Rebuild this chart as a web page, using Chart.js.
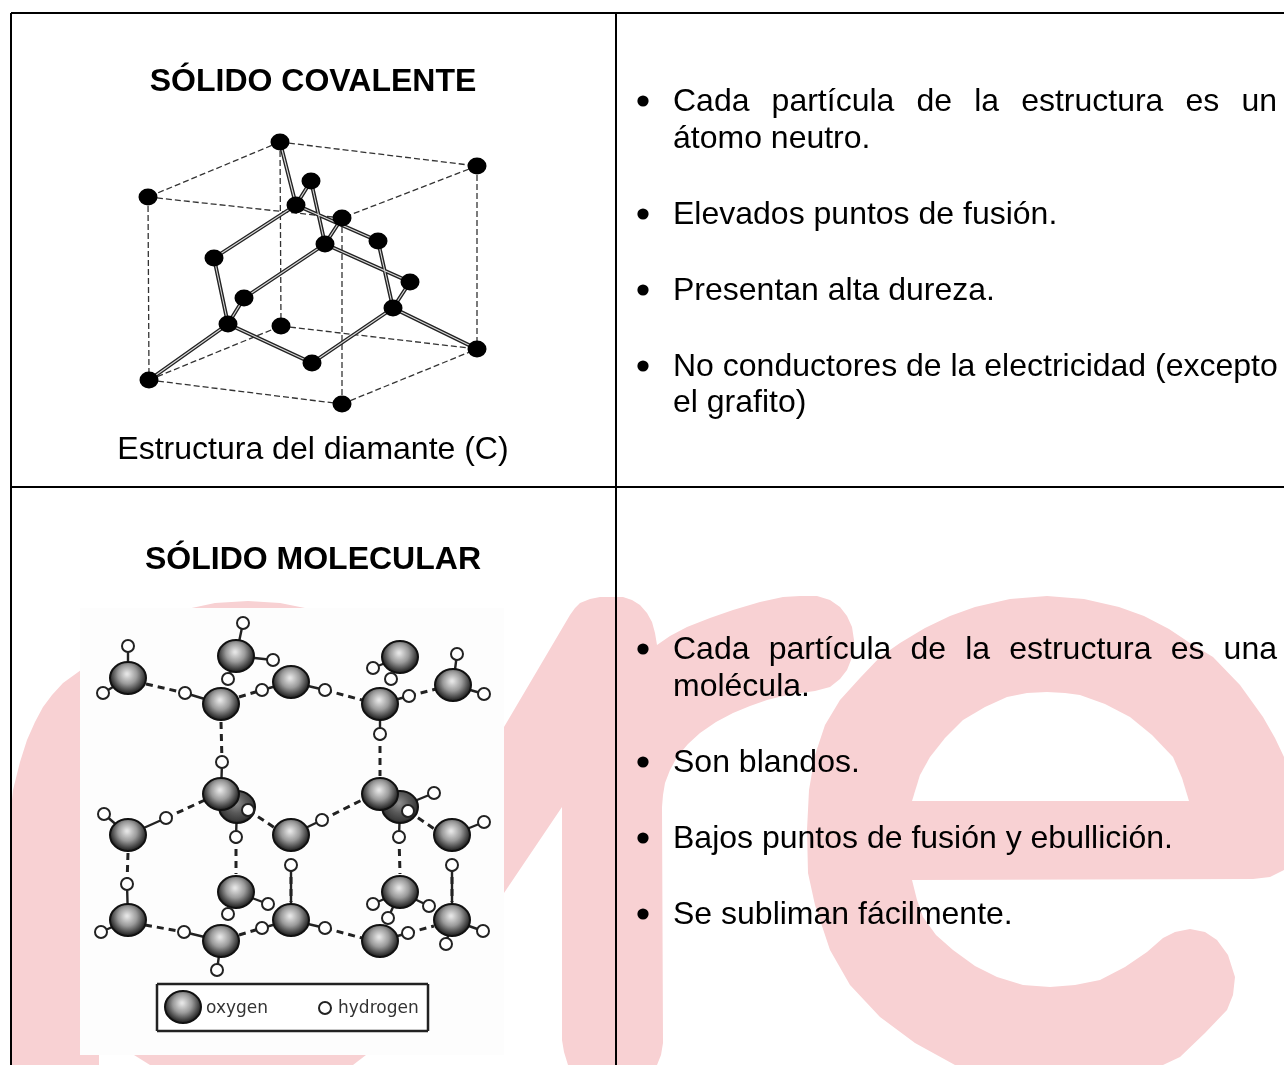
<!DOCTYPE html>
<html lang="es">
<head>
<meta charset="utf-8">
<title>Sólidos</title>
<script src="https://cdn.jsdelivr.net/npm/chart.js@4/dist/chart.umd.min.js"></script>
<style>
    html, body { margin: 0; padding: 0; background: #fff; }
    body { position: relative; width: 1284px; height: 1065px; overflow: hidden; font-family: "Liberation Sans", Arial, sans-serif; color: #000; }
    canvas { position: absolute; left: 0; top: 0; }
    .t { position: absolute; font-size: 32px; line-height: 36px; white-space: nowrap; }
    .c { left: 13px; width: 600px; text-align: center; }
    .b { font-weight: bold; }
    .j { left: 673px; width: 604px; white-space: normal; text-align: justify; text-align-last: justify; }
    .l { left: 673px; }
    .k { font-family: "DejaVu Sans", sans-serif; font-size: 17px; line-height: 20px; color: #333; }
</style>
</head>
<body>
<canvas id="lamina" width="1284" height="1065"></canvas>
<div class="t c b" style="top:62px">SÓLIDO COVALENTE</div>
<div class="t j" style="top:82px">Cada partícula de la estructura es un</div>
<div class="t l" style="top:119px">átomo neutro.</div>
<div class="t l" style="top:195px">Elevados puntos de fusión.</div>
<div class="t l" style="top:271px">Presentan alta dureza.</div>
<div class="t l" style="top:347px">No conductores de la electricidad (excepto</div>
<div class="t l" style="top:383px">el grafito)</div>
<div class="t c" style="top:430px">Estructura del diamante (C)</div>
<div class="t c b" style="top:540px">SÓLIDO MOLECULAR</div>
<div class="t j" style="top:630px">Cada partícula de la estructura es una</div>
<div class="t l" style="top:667px">molécula.</div>
<div class="t l" style="top:743px">Son blandos.</div>
<div class="t l" style="top:819px">Bajos puntos de fusión y ebullición.</div>
<div class="t l" style="top:895px">Se subliman fácilmente.</div>
<div class="t k" style="left:206px;top:997px">oxygen</div>
<div class="t k" style="left:338px;top:997px">hydrogen</div>

<script>
// Rejilla de la tabla
const tablaLineas = [[11,13,1284,13],[11,13,11,1065],[616,13,616,1065],[11,487,1284,487]];

// Marca de agua (contornos)
const marcaM1 = [[12,1065],[12,800],[13,790],[20,762],[27,740],[35,722],[43,707],[52,695],[63,683],[81,670],[120,640],[150,623],[187,609],[215,603],[248,601],[280,603],[310,609],[320,700],[99,700],[99,1065]];
const marcaM2 = [[134,1055],[150,1065],[353,1065],[366,1055],[366,1040],[134,1040]];
const marcaR = [[504,727],[570,615],[575,608],[580,603],[590,599],[600,597],[623,597],[632,600],[640,605],[647,613],[652,622],[655,633],[657,645],[670,636],[687,627],[710,618],[733,610],[760,602],[783,597],[800,596],[817,596],[830,600],[840,607],[847,616],[852,627],[854,640],[853,650],[851,660],[847,670],[840,679],[830,687],[815,691],[800,693],[783,696],[767,700],[750,706],[733,713],[716,722],[700,733],[688,744],[677,757],[670,770],[665,783],[663,795],[662,807],[663,1043],[661,1055],[657,1065],[568,1065],[564,1052],[562,1040],[562,807],[504,893]];
const marcaE = [[955,1065],[915,1043],[880,1017],[850,985],[830,950],[815,905],[808,873],[807,830],[809,790],[815,755],[825,725],[840,700],[860,678],[880,657],[900,643],[925,628],[950,616],[975,607],[1010,599],[1047,596],[1084,599],[1119,607],[1144,616],[1169,629],[1190,643],[1213,657],[1240,685],[1263,717],[1275,738],[1284,757],[1284,870],[1270,877],[1253,879],[912,880],[917,900],[923,917],[936,935],[953,950],[975,966],[997,977],[1023,985],[1050,987],[1075,985],[1100,980],[1125,967],[1147,952],[1163,938],[1175,932],[1190,929],[1205,932],[1217,940],[1228,955],[1235,977],[1233,995],[1227,1010],[1205,1033],[1180,1057],[1163,1065]];
const marcaEHueco = [[912,801],[920,775],[930,757],[945,738],[963,720],[985,707],[1007,697],[1027,693],[1047,692],[1065,693],[1080,695],[1105,704],[1130,717],[1152,735],[1173,757],[1182,778],[1189,801]];
const fondoFoto = [[80,608],[504,608],[504,1055],[80,1055]];
const cajaLeyenda = [[157,984],[428,984],[428,1031],[157,1031]];
const bordeLeyenda = [[157,984,428,984],[428,984,428,1031],[428,1031,157,1031],[157,1031,157,984]];

// Diamante
const vertices = [[280,142],[477,166],[148,197],[342,218],[281,326],[477,349],[149,380],[342,404]];
const internos = [[311,181],[296,205],[378,241],[325,244],[214,258],[410,282],[244,298],[393,308],[228,324],[312,363]];
const aristas = [[280,142,477,166],[280,142,148,197],[148,197,342,218],[477,166,342,218],[148,197,149,380],[280,142,281,326],[342,218,342,404],[477,166,477,349],[149,380,281,326],[281,326,477,349],[149,380,342,404],[342,404,477,349]];
const enlaces = [[280,142,296,205],[311,181,296,205],[311,181,325,244],[296,205,214,258],[296,205,378,241],[325,244,342,218],[325,244,244,298],[325,244,410,282],[378,241,393,308],[410,282,393,308],[214,258,228,324],[244,298,228,324],[228,324,149,380],[228,324,312,363],[312,363,393,308],[393,308,477,349]];

// Hielo
const oxigenosAtras = [[237,807],[400,807]];
const oxigenos = [[128,678],[236,656],[400,657],[291,682],[221,704],[380,704],[453,685],[221,794],[380,794],[128,835],[291,835],[452,835],[236,892],[400,892],[128,920],[291,920],[452,920],[221,941],[380,941],[183,1007]];
const hidrogenos = [[128,646],[103,693],[243,623],[273,660],[228,679],[185,693],[262,690],[325,690],[373,668],[391,679],[409,696],[457,654],[484,694],[380,734],[222,762],[104,814],[166,818],[248,810],[434,793],[408,811],[322,820],[484,822],[236,837],[399,837],[291,865],[452,865],[127,884],[268,904],[429,906],[373,904],[228,914],[388,918],[101,932],[184,932],[262,928],[325,928],[408,933],[483,931],[446,944],[217,970],[325,1008]];
const covalentes = [[128,678,128,646],[128,678,103,693],[236,656,243,623],[236,656,273,660],[236,656,228,679],[221,704,185,693],[291,682,262,690],[291,682,325,690],[400,657,373,668],[400,657,391,679],[380,704,409,696],[453,685,457,654],[453,685,484,694],[380,704,380,734],[221,794,222,762],[128,835,104,814],[128,835,166,818],[237,807,248,810],[400,807,434,793],[400,807,408,811],[291,835,322,820],[452,835,484,822],[237,807,236,837],[400,807,399,837],[291,920,291,865],[452,920,452,865],[128,920,127,884],[236,892,268,904],[400,892,429,906],[400,892,373,904],[236,892,228,914],[400,892,388,918],[128,920,101,932],[221,941,184,932],[291,920,262,928],[291,920,325,928],[380,941,408,933],[452,920,483,931],[452,920,446,944],[221,941,217,970]];
const puentes = [[146,684,185,693],[239,697,262,690],[325,690,362,700],[409,696,436,689],[221,722,222,762],[380,734,380,776],[166,818,205,800],[248,810,275,828],[322,820,362,800],[408,811,436,830],[236,837,236,874],[399,837,400,874],[291,865,291,902],[452,865,452,902],[128,853,127,884],[145,925,184,932],[239,935,262,928],[325,928,362,938],[408,933,434,926]];

// Viñetas
const vinetas = [[643,101],[643,214],[643,290],[643,366],[643,649],[643,762],[643,838],[643,914]];

const puntos = (arr) => arr.map(p => ({ x: p[0], y: p[1] }));

// Cada tramo separado por un hueco
function tramos(arr) {
    const out = [];
    arr.forEach(s => {
        out.push({ x: s[0], y: s[1] }, { x: s[2], y: s[3] }, { x: NaN, y: NaN });
    });
    return out;
}

function relleno(arr, color) {
    return { data: puntos(arr), showLine: true, fill: 'shape', backgroundColor: color, borderWidth: 0, pointRadius: 0 };
}

function linea(arr, color, ancho, dash) {
    return { data: tramos(arr), showLine: true, fill: false, borderColor: color, borderWidth: ancho, borderDash: dash || [], pointRadius: 0 };
}

function atomos(arr, style, radio, color, borde, anchoBorde) {
    return { data: puntos(arr), showLine: false, pointStyle: style, pointRadius: radio, pointBackgroundColor: color, pointBorderColor: borde, pointBorderWidth: anchoBorde };
}

// Esfera gris para los oxígenos
function esfera(claro, medio) {
    const c = document.createElement('canvas');
    c.width = 40; c.height = 36;
    const g = c.getContext('2d');
    const grad = g.createRadialGradient(19, 14, 1, 20, 15, 20);
    grad.addColorStop(0, claro);
    grad.addColorStop(0.45, medio);
    grad.addColorStop(0.82, '#3c3c3c');
    grad.addColorStop(1, '#111');
    g.fillStyle = grad;
    g.strokeStyle = '#111';
    g.lineWidth = 2;
    g.beginPath();
    g.ellipse(20, 18, 18, 16, 0, 0, Math.PI * 2);
    g.fill();
    g.stroke();
    return c;
}

// Átomo negro algo aplastado
function elipse() {
    const c = document.createElement('canvas');
    c.width = 20; c.height = 18;
    const g = c.getContext('2d');
    g.fillStyle = '#000';
    g.beginPath();
    g.ellipse(10, 9, 9.5, 8.5, 0, 0, Math.PI * 2);
    g.fill();
    return c;
}

const PINK = '#f8d1d3';
const capas = [
    relleno(marcaM1, PINK),
    relleno(marcaM2, PINK),
    relleno(marcaR, PINK),
    relleno(marcaE, PINK),
    relleno(marcaEHueco, '#ffffff'),
    relleno(fondoFoto, '#fdfdfd'),
    relleno(cajaLeyenda, '#ffffff'),
    linea(tablaLineas, '#000', 2),
    linea(bordeLeyenda, '#222', 2.5),
    linea(aristas, '#333', 1.3, [6, 3]),
    linea(enlaces, '#222', 3.8),
    linea(enlaces, '#d8d8d8', 1.1),
    atomos(vertices, elipse(), 9, '#000', '#000', 0),
    atomos(internos, elipse(), 9, '#000', '#000', 0),
    linea(covalentes, '#222', 2.4),
    linea(puentes, '#222', 3, [7, 5]),
    atomos(oxigenosAtras, esfera('#8a8a8a', '#5a5a5a'), 18, '#555', '#111', 1),
    atomos(oxigenos, esfera('#e4e4e4', '#9a9a9a'), 18, '#888', '#111', 1),
    atomos(hidrogenos, 'circle', 6, '#fff', '#222', 2),
    atomos(vinetas, 'circle', 5.6, '#000', '#000', 0),
];
// El último se pinta encima
capas.forEach((d, i) => { d.order = -i; });

new Chart(document.getElementById('lamina'), {
    type: 'scatter',
    data: { datasets: capas },
    options: {
        responsive: false,
        animation: false,
        events: [],
        layout: { padding: 0, autoPadding: false },
        plugins: { legend: { display: false }, tooltip: { enabled: false } },
        scales: {
            x: { type: 'linear', min: 0, max: 1284, display: false },
            y: { type: 'linear', min: 0, max: 1065, reverse: true, display: false },
        },
    },
});
</script>
</body>
</html>
